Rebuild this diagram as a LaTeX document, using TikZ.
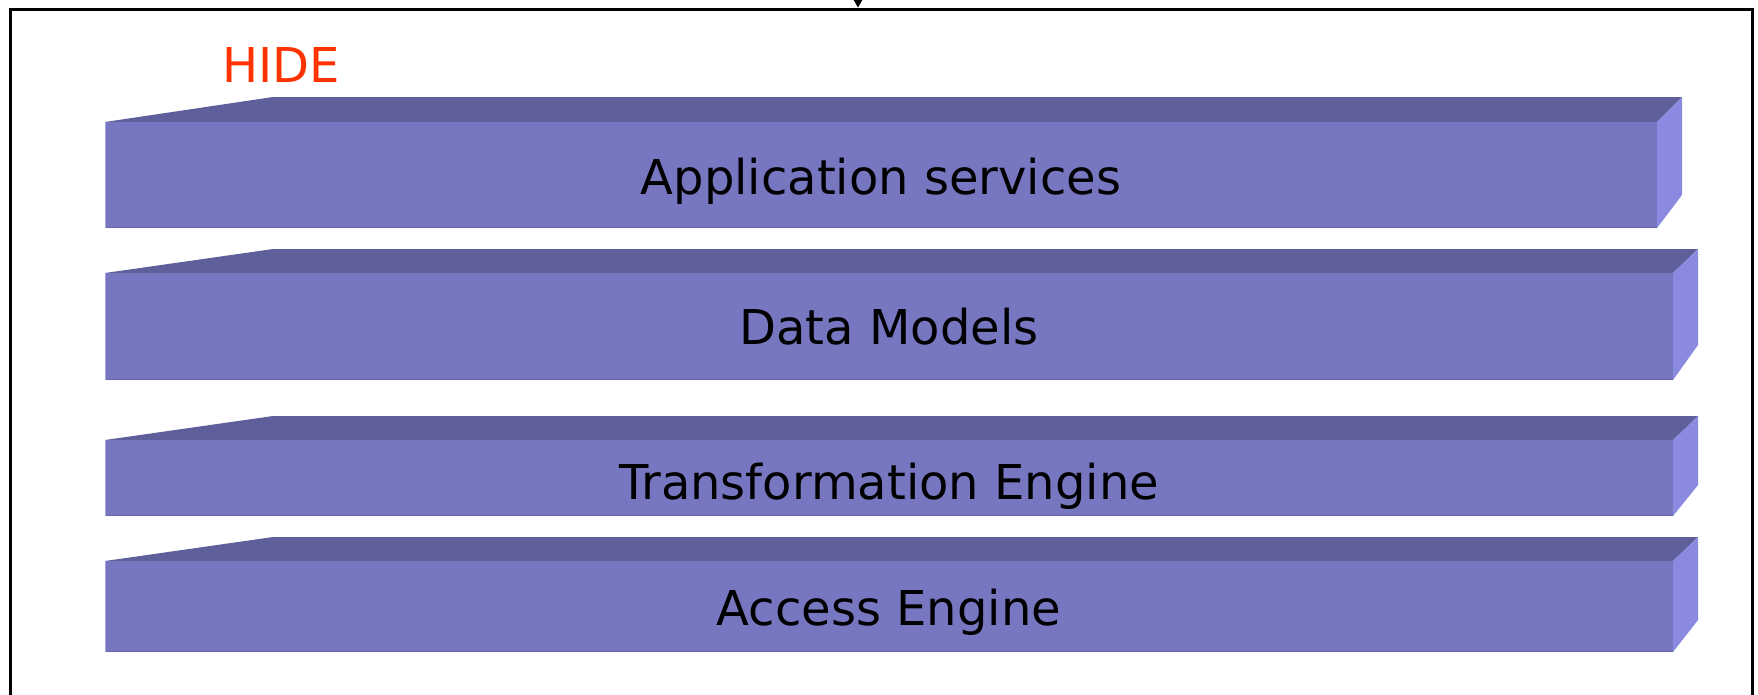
\documentclass[tikz,border=0pt]{standalone}
\usepackage{fontspec}
\setmainfont{DejaVu Sans}
\usetikzlibrary{arrows.meta}
\definecolor{frontc}{RGB}{118,118,193}
\definecolor{topc}{RGB}{95,95,155}
\definecolor{sidec}{RGB}{138,138,224}
\definecolor{edgec}{RGB}{165,165,230}
\definecolor{bottomc}{RGB}{100,100,175}
\definecolor{hidec}{RGB}{255,51,0}
\newcommand{\layerbox}[5]{%
  \fill[topc] (105,#3) -- (273,#2) -- ({#1+25},#2) -- (#1,#3) -- cycle;
  \fill[sidec] (#1,#3) -- ({#1+25},#2) -- ({#1+25},#5) -- (#1,#4) -- cycle;
  \fill[frontc] (105,#3) rectangle (#1,#4);
  \draw[bottomc, line width=1.5pt] (105,{#4-0.75}) -- (#1,{#4-0.75});
  \draw[edgec, line width=1.2pt] (105.6,#3) -- (105.6,#4);
}
\begin{document}
\begin{tikzpicture}[x=1pt,y=-1pt,
  lbl/.style={font=\fontsize{48}{58}\selectfont, text=black, inner sep=0pt, anchor=base},
  framec/.style={draw=black, line width=3pt},
  arr/.style={-{Triangle[length=8pt,width=9pt]}, line width=1pt, draw=black}]
\useasboundingbox (0,0) rectangle (1758,694);
\clip (0,0) rectangle (1758,694);
\fill[white] (0,0) rectangle (1758,694);
% frame
\draw[framec] (10,720) -- (10,9) -- (1752,9) -- (1752,720);
% incoming arrow
\coordinate (src) at (858,-60);
\coordinate (tgt) at (858,7.5);
\draw[arr] (src) -- (tgt);
% HIDE label
\node[lbl, anchor=base west, text=hidec] (hide) at (222,82) {HIDE};
% layers
\layerbox{1657}{97}{122}{228}{195}
\layerbox{1673}{249}{273}{380}{345}
\layerbox{1673}{416}{440}{516}{485}
\layerbox{1673}{537}{561}{652}{620}
\node[lbl] (app) at (881,194) {Application services};
\node[lbl] (data) at (889,344) {Data Models};
\node[lbl] (trans) at (889,499) {Transformation Engine};
\node[lbl] (access) at (889,625) {Access Engine};
\end{tikzpicture}
\end{document}
